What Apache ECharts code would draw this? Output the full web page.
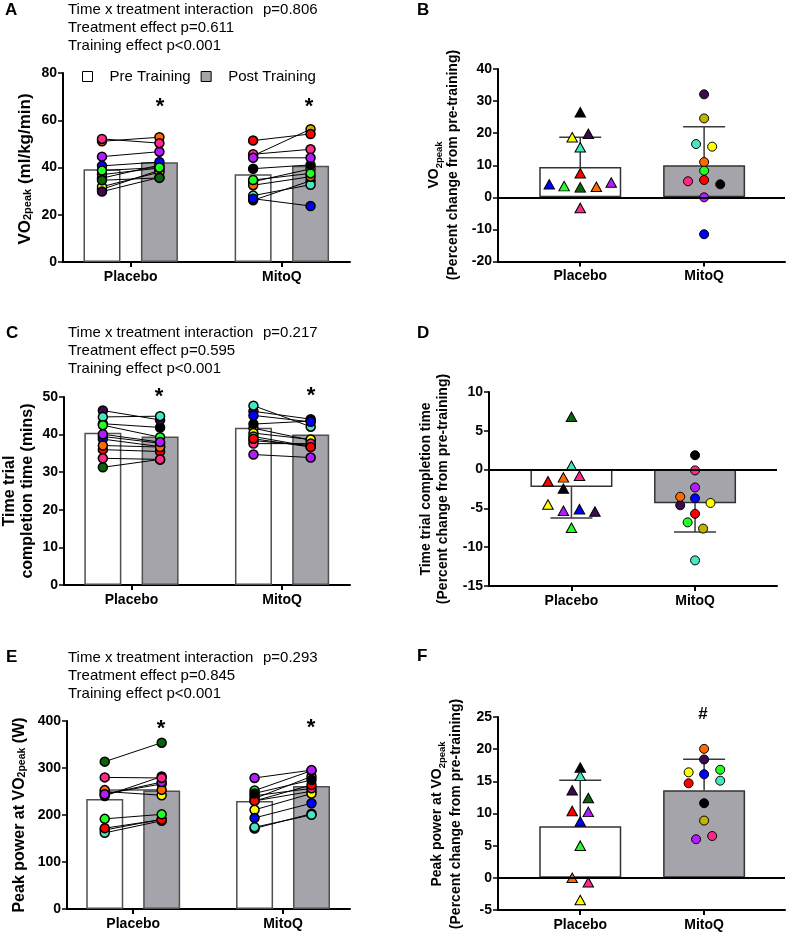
<!DOCTYPE html>
<html><head><meta charset="utf-8">
<script src="https://cdn.jsdelivr.net/npm/echarts@6/dist/echarts.min.js"></script>
<style>html,body{margin:0;padding:0;background:#fff}#c{width:790px;height:936px}</style>
</head><body><div id="c"></div>
<script>
// ---------------- DATA ----------------
const categories = ['Placebo', 'MitoQ'];
// subject order (placebo): black, yellow, darkpurple, aquamarine, red, blue, green, darkgreen, orange, purple, pink
// subject order (mitoq): darkpurple, olive, aquamarine, yellow, orange, green, pink, red, black, purple, blue

// Panel A: VO2peak (ml/kg/min)
const vo2PlaceboPre  = [30.8, 31.9, 29.8, 35.5, 37.0, 40.7, 38.7, 34.6, 51.1, 44.6, 52.1];
const vo2PlaceboPost = [38.8, 38.0, 35.8, 41.0, 39.8, 42.3, 40.0, 35.6, 52.8, 46.7, 50.3];
const vo2MitoqPre    = [26.1, 45.0, 28.1, 34.0, 32.5, 34.7, 45.6, 51.4, 39.5, 44.1, 26.8];
const vo2MitoqPost   = [34.4, 56.2, 32.7, 39.4, 36.1, 37.5, 47.7, 54.2, 41.1, 44.1, 23.7];
const vo2PreMeans  = [39.3, 37.1];
const vo2PostMeans = [42.2, 40.7];

// Panel B: VO2peak percent change
const vo2ChangePlacebo = [26.5, 18.7, 19.8, 15.6, 7.5, 4.05, 3.5, 3.1, 3.3, 4.6, -3.3];
const vo2ChangeMitoq   = [32.1, 24.6, 16.6, 15.8, 11.0, 8.3, 5.0, 5.4, 4.05, 0, -11.5];
const vo2ChangeMeans = [9.45, 10.0];
const vo2ChangeSD    = [9.25, 12.0];

// Panel C: time trial completion time (mins)
const ttPlaceboPre  = [42.9, 39.5, 46.4, 44.7, 36.0, 38.8, 42.5, 31.3, 37.1, 40.1, 33.7];
const ttPlaceboPost = [41.9, 37.7, 43.9, 44.9, 35.5, 36.8, 39.3, 33.4, 36.7, 38.0, 33.4];
const ttMitoqPre    = [46.2, 41.7, 47.7, 40.4, 38.4, 39.5, 37.6, 38.9, 42.8, 34.7, 45.1];
const ttMitoqPost   = [44.1, 38.5, 42.1, 38.7, 37.1, 36.8, 37.6, 36.7, 43.6, 33.9, 43.4];
const ttPreMeans  = [40.5, 41.8];
const ttPostMeans = [39.5, 40.0];

// Panel D: time trial percent change
const ttChangePlacebo = [-2.45, -4.5, -5.4, 0.5, -1.5, -5.1, -7.5, 6.8, -1.0, -5.3, -0.8];
const ttChangeMitoq   = [-4.6, -7.6, -11.7, -4.3, -3.5, -6.8, -0.1, -5.7, 1.85, -2.3, -3.7];
const ttChangeMeans = [-2.25, -4.35];
const ttChangeSD    = [4.0, 3.7];

// Panel E: peak power at VO2peak (W)
const ppPlaceboPre  = [240.6, 250, 168, 162, 172, 245, 191.8, 313.5, 253, 244, 280];
const ppPlaceboPost = [281.8, 242, 191, 187.7, 190, 266, 201.4, 353.9, 253.4, 270, 278.8];
const ppMitoqPre    = [171.3, 230, 174, 211, 235, 252, 241, 230, 246, 278.8, 193.8];
const ppMitoqPost   = [202.8, 250.5, 200.3, 245.6, 282, 294.3, 256.7, 263.8, 274.5, 295.5, 225];
const ppPreMeans  = [234.3, 230];
const ppPostMeans = [252, 261.8];

// Panel F: peak power percent change
const ppChangePlacebo = [17.15, -3.45, 13.6, 15.85, 10.4, 8.75, 5.0, 12.4, 0, 10.25, -0.7];
const ppChangeMitoq   = [18.4, 8.9, 15.1, 16.4, 20.05, 16.8, 6.5, 14.7, 11.6, 6.0, 16.1];
const ppChangeMeans = [8.0, 13.6];
const ppChangeSD    = [7.15, 4.85];

// ---------------- STYLE / LAYOUT ----------------
const placeboColors = ['#000000','#ffff00','#3d0a4f','#45e6c0','#ff0000','#0000ff','#22ff22','#0a640a','#ff6a00','#b31cff','#ff2a85'];
const mitoqColors   = ['#3d0a4f','#c2b400','#45e6c0','#ffff00','#ff6a00','#22ff22','#ff2a85','#ff0000','#000000','#b31cff','#0000ff'];
const FONT = "'Liberation Sans', Arial, Helvetica, sans-serif";
const PRE_FILL = '#ffffff', POST_FILL = '#a4a4aa', BAR_BORDER = '#505050';
const PAIR_OFF = 0.19;
// horizontal jitter (category units) for the percent-change panels
const jitB = { p: [0, -0.065, 0.065, 0, 0, -0.25, -0.13, 0, 0.13, 0.25, 0], m: [0, 0, -0.065, 0.065, 0, 0, -0.13, 0, 0.13, 0, 0] };
const jitD = { p: [-0.065, -0.19, 0.19, 0, -0.19, 0.065, 0, 0, -0.065, -0.065, 0.065], m: [-0.12, 0.065, 0, 0.125, -0.12, -0.06, 0, 0, 0, 0, 0] };
const jitF = { p: [0, 0, -0.065, 0, -0.065, 0, 0, 0.065, -0.065, 0.065, 0.065], m: [0, 0, 0.13, -0.125, 0, 0.13, 0.065, -0.125, 0, -0.065, 0] };

const gridDefs = [
  {left: 63, top: 73, width: 287, height: 189},   // A
  {left: 498, top: 69, width: 287, height: 192.5},// B
  {left: 64, top: 397, width: 286, height: 188},  // C
  {left: 489, top: 392, width: 288, height: 194}, // D
  {left: 67, top: 721, width: 283, height: 188},  // E
  {left: 498, top: 717, width: 287, height: 193}  // F
];
const xRanges = [[0.552, 2.451], [0.336, 2.653], [0.552, 2.451], [0.333, 2.663], [0.558, 2.447], [0.336, 2.653]];
const yRanges = [[0, 80, 20], [-20, 40, 10], [0, 50, 10], [-15, 10, 5], [0, 400, 100], [-5, 25, 5]];

const axisLbl = {color: '#000', fontFamily: FONT, fontWeight: 'bold', fontSize: 14};

const grid = gridDefs.map(g => Object.assign({containLabel: false}, g));
const xAxis = gridDefs.map((g, i) => ({
  type: 'value', gridIndex: i, min: xRanges[i][0], max: xRanges[i][1],
  axisLine: {show: true, onZero: false, lineStyle: {color: '#000', width: 2}},
  axisTick: {show: true, customValues: [1, 2], length: 5, lineStyle: {color: '#000', width: 2}},
  axisLabel: Object.assign({show: true, customValues: [1, 2], margin: 8,
    formatter: v => categories[Math.round(v) - 1] || ''}, axisLbl),
  splitLine: {show: false}
}));
const yAxis = gridDefs.map((g, i) => ({
  type: 'value', gridIndex: i, min: yRanges[i][0], max: yRanges[i][1], interval: yRanges[i][2],
  axisLine: {show: true, lineStyle: {color: '#000', width: 2}},
  axisTick: {show: true, length: 5, lineStyle: {color: '#000', width: 1.5}},
  axisLabel: Object.assign({margin: 6}, axisLbl),
  splitLine: {show: false}
}));

const series = [];

function linkRender(params, api) {
  const a = api.coord([api.value(0), api.value(1)]);
  const b = api.coord([api.value(2), api.value(3)]);
  return {type: 'line', shape: {x1: a[0], y1: a[1], x2: b[0], y2: b[1]}, style: {stroke: '#000', lineWidth: 1}};
}
function errRender(params, api) {
  const x = api.value(0), m = api.value(1), s = api.value(2);
  const end = m < 0 ? m - s : m + s;
  const p0 = api.coord([x, m]), p1 = api.coord([x, end]);
  const st = {stroke: '#3a3a3a', lineWidth: 1.5};
  return {type: 'group', children: [
    {type: 'line', shape: {x1: p0[0], y1: p0[1], x2: p1[0], y2: p1[1]}, style: st},
    {type: 'line', shape: {x1: p1[0] - 21, y1: p1[1], x2: p1[0] + 21, y2: p1[1]}, style: st}
  ]};
}

function pairedPanel(gi, preMeans, postMeans, pPre, pPost, mPre, mPost) {
  const ax = {xAxisIndex: gi, yAxisIndex: gi};
  series.push(Object.assign({type: 'bar', name: 'Pre Training', barWidth: 37, barGap: '-100%', z: 1,
    itemStyle: {color: PRE_FILL, borderColor: BAR_BORDER, borderWidth: 1.5},
    data: preMeans.map((v, k) => [k + 1 - PAIR_OFF, v])}, ax));
  series.push(Object.assign({type: 'bar', name: 'Post Training', barWidth: 37, barGap: '-100%', z: 1,
    itemStyle: {color: POST_FILL, borderColor: BAR_BORDER, borderWidth: 1.5},
    data: postMeans.map((v, k) => [k + 1 + PAIR_OFF, v])}, ax));
  const links = [];
  pPre.forEach((v, i) => links.push([1 - PAIR_OFF, v, 1 + PAIR_OFF, pPost[i]]));
  mPre.forEach((v, i) => links.push([2 - PAIR_OFF, v, 2 + PAIR_OFF, mPost[i]]));
  series.push(Object.assign({type: 'custom', renderItem: linkRender, encode: {x: [0, 2], y: [1, 3]}, z: 2,
    data: links, silent: true}, ax));
  const pts = [];
  const add = (arr, x, cols) => arr.forEach((v, i) => pts.push({value: [x, v], itemStyle: {color: cols[i]}}));
  add(pPre, 1 - PAIR_OFF, placeboColors); add(pPost, 1 + PAIR_OFF, placeboColors);
  add(mPre, 2 - PAIR_OFF, mitoqColors); add(mPost, 2 + PAIR_OFF, mitoqColors);
  series.push(Object.assign({type: 'scatter', symbol: 'circle', symbolSize: 9, z: 3,
    itemStyle: {borderColor: '#000', borderWidth: 1.5, opacity: 1}, data: pts}, ax));
}

function changePanel(gi, means, sds, pVals, mVals, jit) {
  const ax = {xAxisIndex: gi, yAxisIndex: gi};
  series.push(Object.assign({type: 'bar', barWidth: 82, z: 1,
    itemStyle: {borderColor: '#333', borderWidth: 1.5},
    data: means.map((v, k) => ({value: [k + 1, v], itemStyle: {color: k === 0 ? PRE_FILL : POST_FILL}})),
    markLine: {silent: true, symbol: ['none', 'none'], label: {show: false}, animation: false,
      lineStyle: {color: '#000', width: 2, type: 'solid'}, data: [{yAxis: 0}]}}, ax));
  series.push(Object.assign({type: 'custom', renderItem: errRender, encode: {x: 0, y: 1}, z: 2,
    data: means.map((v, k) => [k + 1, v, sds[k]]), silent: true}, ax));
  series.push(Object.assign({type: 'scatter', symbol: 'triangle', symbolSize: [10.5, 9.5], z: 3,
    itemStyle: {borderColor: '#000', borderWidth: 1, opacity: 1},
    data: pVals.map((v, i) => ({value: [1 + jit.p[i], v], itemStyle: {color: placeboColors[i]}}))}, ax));
  series.push(Object.assign({type: 'scatter', symbol: 'circle', symbolSize: 9, z: 3,
    itemStyle: {borderColor: '#000', borderWidth: 1, opacity: 1},
    data: mVals.map((v, i) => ({value: [2 + jit.m[i], v], itemStyle: {color: mitoqColors[i]}}))}, ax));
}

pairedPanel(0, vo2PreMeans, vo2PostMeans, vo2PlaceboPre, vo2PlaceboPost, vo2MitoqPre, vo2MitoqPost);
changePanel(1, vo2ChangeMeans, vo2ChangeSD, vo2ChangePlacebo, vo2ChangeMitoq, jitB);
pairedPanel(2, ttPreMeans, ttPostMeans, ttPlaceboPre, ttPlaceboPost, ttMitoqPre, ttMitoqPost);
changePanel(3, ttChangeMeans, ttChangeSD, ttChangePlacebo, ttChangeMitoq, jitD);
pairedPanel(4, ppPreMeans, ppPostMeans, ppPlaceboPre, ppPlaceboPost, ppMitoqPre, ppMitoqPost);
changePanel(5, ppChangeMeans, ppChangeSD, ppChangePlacebo, ppChangeMitoq, jitF);

// ---------------- TEXT ----------------
function txt(x, y, text, opts) {
  return {type: 'text', x: x, y: y, z: 100, silent: true,
    style: Object.assign({text: text, fill: '#000', fontFamily: FONT, fontSize: 15, align: 'left', verticalAlign: 'middle'}, opts || {})};
}
function bold(size) { return {fontFamily: FONT, fontSize: size, fontWeight: 'bold', fill: '#000'}; }
function subS(size) { return {fontFamily: FONT, fontSize: size, fontWeight: 'bold', fill: '#000', verticalAlign: 'bottom'}; }
function rotTitle(x, y, text, rich) {
  return {type: 'text', x: x, y: y, rotation: Math.PI / 2, z: 100, silent: true,
    style: {text: text, rich: rich, align: 'center', verticalAlign: 'middle', fill: '#000', fontFamily: FONT, fontWeight: 'bold'}};
}
const statBlocks = [
  [10, ['Time x treatment interaction', 'p=0.806', 'Treatment effect p=0.611', 'Training effect p<0.001']],
  [333, ['Time x treatment interaction', 'p=0.217', 'Treatment effect p=0.595', 'Training effect p<0.001']],
  [658, ['Time x treatment interaction', 'p=0.293', 'Treatment effect p=0.845', 'Training effect p<0.001']]
];
const graphic = [];
statBlocks.forEach(([y0, t]) => {
  graphic.push(txt(68, y0, t[0]));
  graphic.push(txt(263, y0, t[1]));
  graphic.push(txt(68, y0 + 18.2, t[2]));
  graphic.push(txt(68, y0 + 36.2, t[3]));
});
[['A', 5, 10.5], ['B', 417, 10.5], ['C', 6, 333], ['D', 417, 333], ['E', 6, 657.5], ['F', 417, 656]].forEach(([l, x, y]) =>
  graphic.push(txt(x, y, l, {fontWeight: 'bold', fontSize: 17})));
[[160, 107], [309, 107], [159, 397], [311, 396], [161, 729], [311, 728]].forEach(([x, y]) =>
  graphic.push(txt(x, y, '*', {fontWeight: 'bold', fontSize: 22, align: 'center'})));
graphic.push(txt(703, 714, '#', {fontWeight: 'bold', fontSize: 17, align: 'center'}));

graphic.push(rotTitle(25, 169, '{b|VO}{s|2peak}{b| (ml/kg/min)}', {b: bold(17), s: subS(11)}));
graphic.push(rotTitle(19, 491, '{b|Time trial}\n{b|completion time (mins)}', {b: Object.assign(bold(16), {lineHeight: 18})}));
graphic.push(rotTitle(20, 815, '{b|Peak power at VO}{s|2peak}{b| (W)}', {b: bold(16), s: subS(10.5)}));
graphic.push(rotTitle(444, 165, '{b|VO}{s|2peak}\n{c|(Percent change from pre-training)}',
  {b: Object.assign(bold(14), {lineHeight: 19}), s: Object.assign(subS(9.5), {lineHeight: 19}), c: Object.assign(bold(14), {lineHeight: 19})}));
graphic.push(rotTitle(435, 489, '{c|Time trial completion time}\n{c|(Percent change from pre-training)}',
  {c: Object.assign(bold(14), {lineHeight: 17})}));
graphic.push(rotTitle(447, 814, '{b|Peak power at VO}{s|2peak}\n{c|(Percent change from pre-training)}',
  {b: Object.assign(bold(14), {lineHeight: 19}), s: Object.assign(subS(9.5), {lineHeight: 19}), c: Object.assign(bold(14), {lineHeight: 19})}));

const option = {
  animation: false,
  backgroundColor: '#fff',
  textStyle: {fontFamily: FONT},
  grid: grid, xAxis: xAxis, yAxis: yAxis, series: series, graphic: graphic,
  legend: {show: true, left: 82, top: 69, padding: 0, itemWidth: 10, itemHeight: 10, itemGap: 10, icon: 'rect', selectedMode: false,
    data: [{name: 'Pre Training', itemStyle: {color: PRE_FILL, borderColor: '#000', borderWidth: 1}},
           {name: 'Post Training', itemStyle: {color: POST_FILL, borderColor: '#000', borderWidth: 1}}],
    textStyle: {fontSize: 15, fontFamily: FONT, color: '#000', padding: [0, 0, 0, 12]}}
};
const chart = echarts.init(document.getElementById('c'), null, {renderer: 'canvas'});
chart.setOption(option);
</script></body></html>
